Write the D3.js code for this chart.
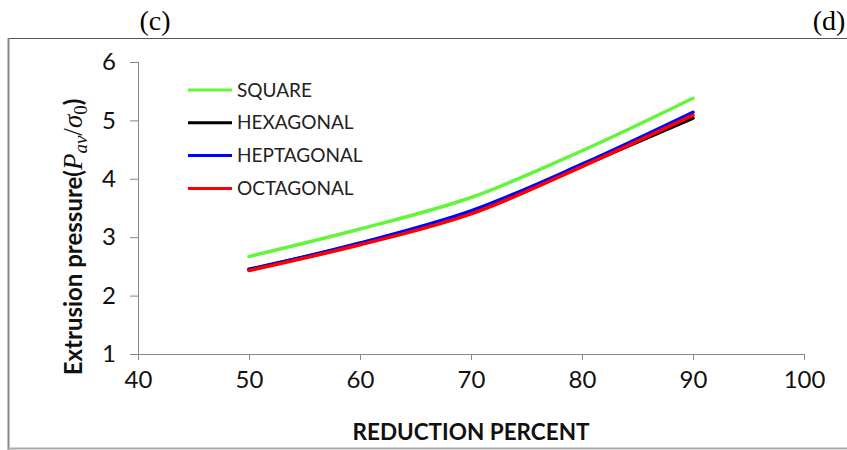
<!DOCTYPE html>
<html><head><meta charset="utf-8">
<script src="https://cdn.jsdelivr.net/npm/d3@7"></script>
<style>body{margin:0;background:#fff}svg{display:block}</style>
</head><body>
<script>
const reduction = [50, 60, 70, 80, 90];
const square = [2.67, 3.14, 3.68, 4.48, 5.38];
const hexagonal = [2.45, 2.89, 3.42, 4.22, 5.04];
const heptagonal = [2.44, 2.90, 3.45, 4.25, 5.14];
const octagonal = [2.43, 2.87, 3.40, 4.21, 5.09];
const seriesNames = ["SQUARE", "HEXAGONAL", "HEPTAGONAL", "OCTAGONAL"];
const seriesColors = ["#62f53a", "#000000", "#0000ff", "#ff0000"];
const xTicks = [40, 50, 60, 70, 80, 90, 100];
const yTicks = [1, 2, 3, 4, 5, 6];

const W = 847, H = 450;
const svg = d3.select("body").append("svg").attr("width", W).attr("height", H);
const font = "Lato, 'Open Sans', sans-serif";

// panel labels
svg.append("text").attr("x", 155).attr("y", 30).attr("text-anchor", "middle")
  .attr("font-family", "'Liberation Serif', serif").attr("font-size", 28).text("(c)");
svg.append("text").attr("x", 829).attr("y", 30).attr("text-anchor", "middle")
  .attr("font-family", "'Liberation Serif', serif").attr("font-size", 28).text("(d)");

// frame
svg.append("line").attr("x1", 8).attr("x2", W).attr("y1", 38.5).attr("y2", 38.5).attr("stroke", "#555").attr("stroke-width", 1.2);
svg.append("line").attr("x1", 8.5).attr("x2", 8.5).attr("y1", 38).attr("y2", H).attr("stroke", "#888").attr("stroke-width", 2);
svg.append("line").attr("x1", 8).attr("x2", W).attr("y1", 448.5).attr("y2", 448.5).attr("stroke", "#aaa").attr("stroke-width", 2);

const x = d3.scaleLinear().domain([40, 100]).range([138, 804]);
const y = d3.scaleLinear().domain([1, 6]).range([354, 62]);

const xAxis = svg.append("g").attr("transform", "translate(0,354)")
  .call(d3.axisBottom(x).tickValues(xTicks).tickSize(6).tickPadding(11).tickFormat(d3.format("d")));
const yAxis = svg.append("g").attr("transform", "translate(138,0)")
  .call(d3.axisLeft(y).tickValues(yTicks).tickSize(8).tickPadding(14).tickFormat(d3.format("d")));
[xAxis, yAxis].forEach(g => {
  g.select(".domain").attr("stroke", "#888");
  g.selectAll(".tick line").attr("stroke", "#888");
  g.selectAll(".tick text").attr("font-family", font).attr("font-size", 24).attr("fill", "#111");
});
yAxis.select(".domain").attr("d", "M0.5,62V354.5");
xAxis.select(".domain").attr("d", "M138,0.5H804.5");

const all = [square, hexagonal, heptagonal, octagonal];
const line = d3.line().x((d, i) => x(reduction[i])).y(d => y(d)).curve(d3.curveCatmullRom.alpha(0.5));
all.forEach((s, k) => {
  svg.append("path").datum(s).attr("d", line).attr("fill", "none")
    .attr("stroke", seriesColors[k]).attr("stroke-width", 3.5).attr("stroke-linecap", "round");
});

// legend
const leg = svg.append("g");
seriesNames.forEach((n, k) => {
  const yy = 90 + k * 32.8;
  leg.append("line").attr("x1", 188).attr("x2", 232).attr("y1", yy).attr("y2", yy)
    .attr("stroke", seriesColors[k]).attr("stroke-width", 3);
  leg.append("text").attr("x", 237).attr("y", yy + 6.5).attr("font-family", font)
    .attr("font-size", 19).attr("fill", "#222").text(n);
});

// axis titles
svg.append("text").attr("x", 471).attr("y", 440).attr("text-anchor", "middle")
  .attr("font-family", font).attr("font-weight", "bold").attr("font-size", 22.5).attr("fill", "#111")
  .text("REDUCTION PERCENT");

const yt = svg.append("text").attr("transform", "translate(82,237) rotate(-90)")
  .attr("text-anchor", "middle").attr("font-family", font).attr("font-size", 24).attr("fill", "#111");
yt.append("tspan").attr("font-weight", "bold").text("Extrusion pressure(");
const serif = "'Liberation Serif', 'DejaVu Serif', serif";
yt.append("tspan").attr("font-family", serif).attr("font-style", "italic").attr("font-size", 27).text("P");
yt.append("tspan").attr("font-family", serif).attr("font-style", "italic").attr("font-size", 19).attr("dy", 5).text("av");
yt.append("tspan").attr("font-family", serif).attr("font-size", 27).attr("dy", -5).text("/");
yt.append("tspan").attr("font-family", serif).attr("font-style", "italic").attr("font-size", 27).text("σ");
yt.append("tspan").attr("font-family", serif).attr("font-size", 19).attr("dy", 5).text("0");
yt.append("tspan").attr("font-weight", "bold").attr("dy", -5).text(")");
</script>
</body></html>
